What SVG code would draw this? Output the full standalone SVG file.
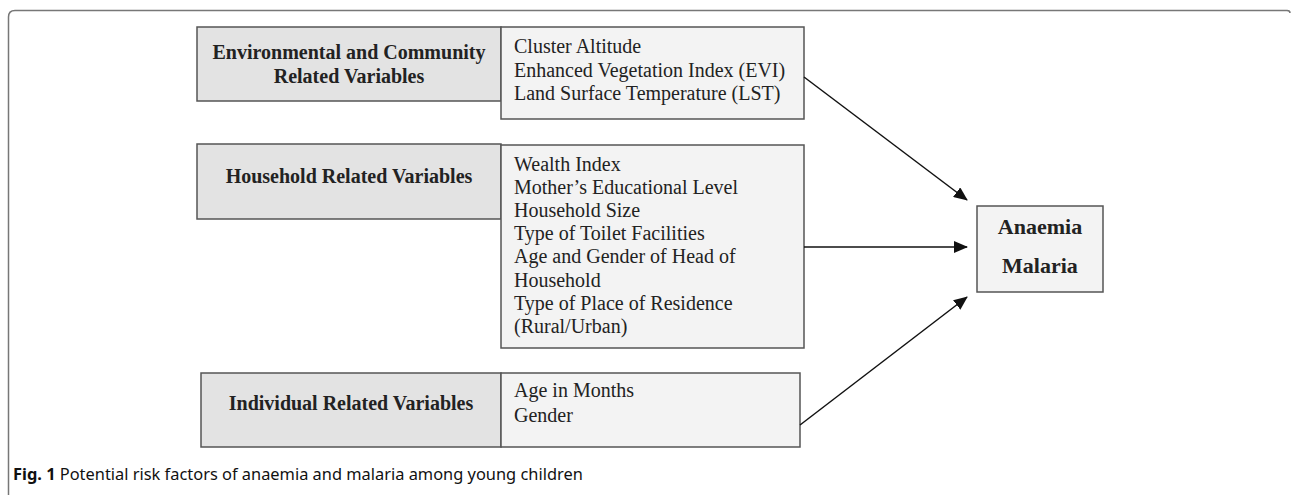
<svg xmlns="http://www.w3.org/2000/svg" width="1291" height="495" viewBox="0 0 1291 495">
<defs>
<marker id="arr" markerWidth="14" markerHeight="12" refX="13" refY="6" orient="auto" markerUnits="userSpaceOnUse">
<path d="M0,0 L14,6 L0,12 z" fill="#111"/>
</marker>
<style>
.lbox{fill:#e3e3e3;stroke:#555;stroke-width:1.5}
.rbox{fill:#f3f3f3;stroke:#555;stroke-width:1.5}
.b{font-family:"Liberation Serif","Times New Roman",serif;font-weight:bold;font-size:20px;fill:#222;text-anchor:middle}
.o{font-size:22px}
.t{font-family:"Liberation Serif","Times New Roman",serif;font-size:20px;fill:#222}
.conn{stroke:#111;stroke-width:1.5;fill:none}
.cap{font-family:"Noto Sans","Open Sans",sans-serif;font-size:16.4px;fill:#111}
</style>
</defs>
<rect width="1291" height="495" fill="#fff"/>
<path d="M8.5,495 V17 Q8.5,10.5 15,10.5 H1287 Q1290,10.5 1290,13" fill="none" stroke="#777" stroke-width="1.5"/>
<g id="env">
<rect class="lbox" x="197" y="27" width="304" height="74"/>
<rect class="rbox" x="501" y="27" width="303" height="92"/>
<text class="b" x="349" y="59">Environmental and Community</text>
<text class="b" x="349" y="83">Related Variables</text>
<text class="t" x="514" y="53">Cluster Altitude</text>
<text class="t" x="514" y="77">Enhanced Vegetation Index (EVI)</text>
<text class="t" x="514" y="100">Land Surface Temperature (LST)</text>
</g>
<g id="household">
<rect class="lbox" x="197" y="144" width="304" height="75"/>
<rect class="rbox" x="501" y="145" width="303" height="203"/>
<text class="b" x="349" y="183">Household Related Variables</text>
<text class="t" x="514" y="171">Wealth Index</text>
<text class="t" x="514" y="194">Mother’s Educational Level</text>
<text class="t" x="514" y="217">Household Size</text>
<text class="t" x="514" y="240">Type of Toilet Facilities</text>
<text class="t" x="514" y="263">Age and Gender of Head of</text>
<text class="t" x="514" y="287">Household</text>
<text class="t" x="514" y="310">Type of Place of Residence</text>
<text class="t" x="514" y="333">(Rural/Urban)</text>
</g>
<g id="individual">
<rect class="lbox" x="201" y="373" width="300" height="74"/>
<rect class="rbox" x="501" y="373" width="299" height="74"/>
<text class="b" x="351" y="410">Individual Related Variables</text>
<text class="t" x="514" y="397">Age in Months</text>
<text class="t" x="514" y="422">Gender</text>
</g>
<g id="outcome">
<rect class="rbox" x="977" y="206" width="126" height="86"/>
<text class="b o" x="1040" y="234">Anaemia</text>
<text class="b o" x="1040" y="273">Malaria</text>
</g>
<g id="connectors">
<line class="conn" x1="804" y1="77" x2="967" y2="200" marker-end="url(#arr)"/>
<line class="conn" x1="804" y1="247" x2="967" y2="247" marker-end="url(#arr)"/>
<line class="conn" x1="800" y1="425" x2="967" y2="297" marker-end="url(#arr)"/>
</g>
<text class="cap" x="13" y="480"><tspan font-weight="bold">Fig. 1</tspan> Potential risk factors of anaemia and malaria among young children</text>
</svg>
